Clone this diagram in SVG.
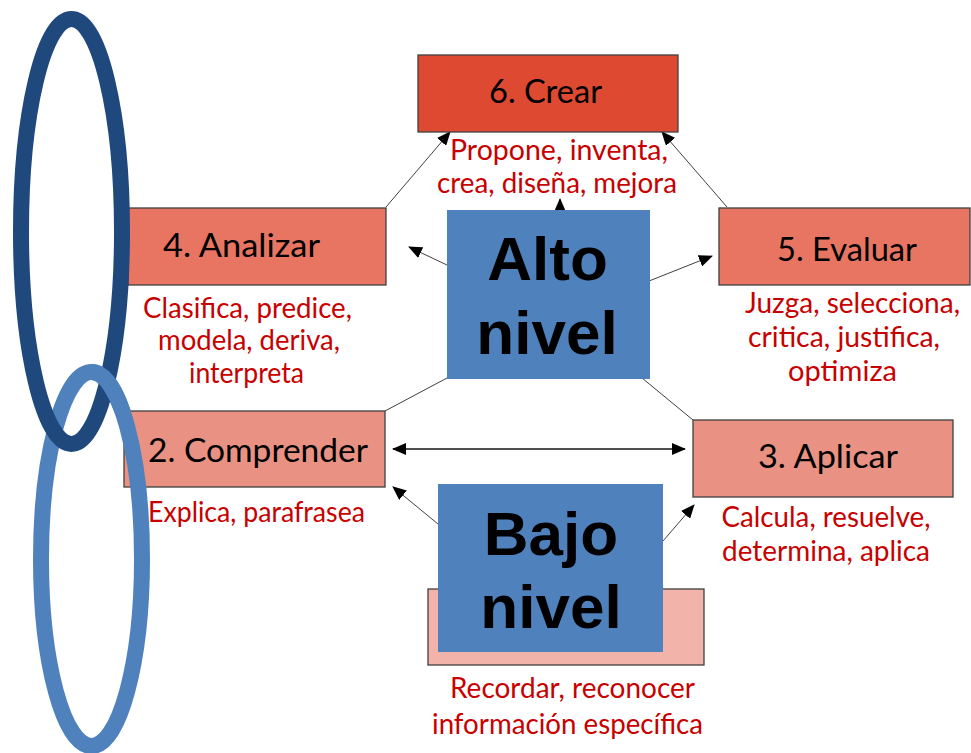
<svg xmlns="http://www.w3.org/2000/svg" width="971" height="753" viewBox="0 0 971 753">
<style>
.box{stroke:#3f3f3f;stroke-width:1.3}
.lbl{font-family:Lato,"Noto Sans",sans-serif;font-size:32px;fill:#000;text-anchor:middle}
.red{font-family:Lato,"Noto Sans",sans-serif;font-size:28px;fill:#C80000;text-anchor:middle}
.big{font-family:"Liberation Sans",Arial,sans-serif;font-weight:bold;font-size:62px;fill:#000;text-anchor:middle}
.blue{fill:#4F81BD}
.con{stroke:#404040;stroke-width:1;fill:none}
.dbl{stroke:#505050;stroke-width:2;fill:none}
</style>
<defs>
<marker id="ah" markerUnits="userSpaceOnUse" markerWidth="14" markerHeight="12" viewBox="0 0 14 12" refX="13" refY="6" orient="auto-start-reverse">
<path d="M0,0 L14,6 L0,12 Z" fill="#000"/>
</marker>
<clipPath id="cl"><rect x="92" y="355" width="50" height="55"/></clipPath>
</defs>
<rect width="971" height="753" fill="#fff"/>

<g id="connectors">
<line class="con" x1="386" y1="207" x2="450" y2="132" marker-end="url(#ah)"/>
<line class="con" x1="727" y1="207" x2="662" y2="132" marker-end="url(#ah)"/>
<line class="con" x1="560" y1="210" x2="560" y2="199" marker-end="url(#ah)"/>
<line class="con" x1="447" y1="265" x2="409" y2="247" marker-end="url(#ah)"/>
<line class="con" x1="649" y1="281" x2="712" y2="256" marker-end="url(#ah)"/>
<line class="con" x1="447" y1="378" x2="385" y2="411"/>
<line class="con" x1="642" y1="378" x2="693" y2="420"/>
<line class="dbl" x1="393" y1="449" x2="685" y2="449" marker-start="url(#ah)" marker-end="url(#ah)"/>
<line class="con" x1="438" y1="524" x2="393" y2="487" marker-end="url(#ah)"/>
<line class="con" x1="663" y1="541" x2="694" y2="505" marker-end="url(#ah)"/>
</g>

<g id="crear">
<rect class="box" x="418" y="55" width="260" height="77" fill="#DE4A31"/>
<text class="lbl" x="545.5" y="103" textLength="113" lengthAdjust="spacingAndGlyphs">6. Crear</text>
<text class="red" x="559" y="160" textLength="218" lengthAdjust="spacingAndGlyphs">Propone, inventa,</text>
<text class="red" x="557" y="193" textLength="240" lengthAdjust="spacingAndGlyphs">crea, diseña, mejora</text>
</g>

<g id="analizar">
<rect class="box" x="128" y="208" width="258" height="77" fill="#E87562"/>
<text class="lbl" x="241.5" y="257" textLength="157" lengthAdjust="spacingAndGlyphs">4. Analizar</text>
<text class="red" x="247.5" y="318" textLength="209" lengthAdjust="spacingAndGlyphs">Clasifica, predice,</text>
<text class="red" x="249" y="350" textLength="182" lengthAdjust="spacingAndGlyphs">modela, deriva,</text>
<text class="red" x="246.5" y="383" textLength="115" lengthAdjust="spacingAndGlyphs">interpreta</text>
</g>

<g id="evaluar">
<rect class="box" x="719" y="208" width="251" height="77" fill="#E87562"/>
<text class="lbl" x="847" y="261" textLength="140" lengthAdjust="spacingAndGlyphs">5. Evaluar</text>
<text class="red" x="852.5" y="313" textLength="215" lengthAdjust="spacingAndGlyphs">Juzga, selecciona,</text>
<text class="red" x="844" y="347" textLength="192" lengthAdjust="spacingAndGlyphs">critica, justifica,</text>
<text class="red" x="842.5" y="381" textLength="109" lengthAdjust="spacingAndGlyphs">optimiza</text>
</g>

<g id="comprender">
<rect class="box" x="124" y="411" width="261" height="76" fill="#E99283"/>
<text class="lbl" x="258" y="462" textLength="220" lengthAdjust="spacingAndGlyphs">2. Comprender</text>
<text class="red" x="256.5" y="522" textLength="217" lengthAdjust="spacingAndGlyphs">Explica, parafrasea</text>
</g>

<g id="aplicar">
<rect class="box" x="693" y="420" width="260" height="77" fill="#E99283"/>
<text class="lbl" x="828" y="468" textLength="140" lengthAdjust="spacingAndGlyphs">3. Aplicar</text>
<text class="red" x="826" y="527" textLength="209" lengthAdjust="spacingAndGlyphs">Calcula, resuelve,</text>
<text class="red" x="826" y="561" textLength="208" lengthAdjust="spacingAndGlyphs">determina, aplica</text>
</g>

<g id="recordar">
<rect class="box" x="428" y="589" width="276" height="76" fill="#F2B3AA"/>
<text class="red" x="572.5" y="698" textLength="245" lengthAdjust="spacingAndGlyphs">Recordar, reconocer</text>
<text class="red" x="567.5" y="734" textLength="271" lengthAdjust="spacingAndGlyphs">información específica</text>
</g>

<g id="alto-nivel">
<rect class="blue" x="447" y="210" width="203" height="169"/>
<text class="big" x="547.5" y="280">Alto</text>
<text class="big" x="547" y="354">nivel</text>
</g>

<g id="bajo-nivel">
<rect class="blue" x="438" y="484" width="225" height="168"/>
<text class="big" x="551" y="555">Bajo</text>
<text class="big" x="551" y="628">nivel</text>
</g>

<g id="ellipses" fill="none" stroke-width="16">
<ellipse cx="91.5" cy="559" rx="50.5" ry="187" stroke="#4F81BD"/>
<ellipse cx="71.5" cy="231.5" rx="50.5" ry="212.5" stroke="#1F497D"/>
<ellipse cx="91.5" cy="559" rx="50.5" ry="187" stroke="#4F81BD" clip-path="url(#cl)"/>
</g>
</svg>
